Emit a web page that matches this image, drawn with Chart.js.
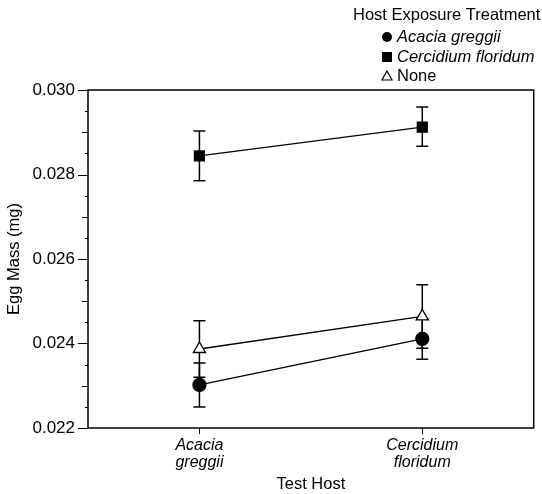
<!DOCTYPE html>
<html>
<head>
<meta charset="utf-8">
<script src="https://cdn.jsdelivr.net/npm/chart.js@4/dist/chart.umd.min.js"></script>
<style>
  html, body { margin: 0; padding: 0; background: #fff; }
  #wrap { width: 542px; height: 494px; position: relative; }
</style>
</head>
<body>
<div id="wrap"><canvas id="myChart" width="542" height="494"></canvas></div>
<script>
const testHosts = [["Acacia", "greggii"], ["Cercidium", "floridum"]];
const legendTitle = "Host Exposure Treatment";
const seriesNames = ["Acacia greggii", "Cercidium floridum", "None"];

// means (mg)
const acaciaMeans = [0.02302, 0.02411];
const cercidiumMeans = [0.02844, 0.02912];
const noneMeans = [0.02387, 0.02464];

// error bars (mg): lower / upper ends
const acaciaLow = [0.02250, 0.02363];
const acaciaHigh = [0.02354, 0.02459];
const cercidiumLow = [0.02785, 0.02867];
const cercidiumHigh = [0.02903, 0.02960];
const noneLow = [0.02320, 0.02389];
const noneHigh = [0.02454, 0.02539];

const yTicks = [0.022, 0.024, 0.026, 0.028, 0.030];

const FONT = "'Liberation Sans', Arial, sans-serif";

const errorBars = {
  id: "errorBars",
  beforeDatasetsDraw(chart) {
    const ctx = chart.ctx;
    const x = chart.scales.x;
    const y = chart.scales.y;
    chart.data.datasets.forEach((ds) => {
      ds.data.forEach((v, i) => {
        const px = x.getPixelForValue(i);
        const lo = y.getPixelForValue(ds.errLow[i]);
        const hi = y.getPixelForValue(ds.errHigh[i]);
        ctx.save();
        ctx.strokeStyle = "#000";
        ctx.lineWidth = 1.5;
        ctx.beginPath();
        ctx.moveTo(px, lo);
        ctx.lineTo(px, hi);
        ctx.moveTo(px - 6, lo);
        ctx.lineTo(px + 6, lo);
        ctx.moveTo(px - 6, hi);
        ctx.lineTo(px + 6, hi);
        ctx.stroke();
        ctx.restore();
      });
    });
  },
};

const frameAndTicks = {
  id: "frameAndTicks",
  afterDraw(chart) {
    const ctx = chart.ctx;
    const a = chart.chartArea;
    const y = chart.scales.y;
    const x = chart.scales.x;
    ctx.save();
    ctx.strokeStyle = "#000";
    ctx.lineWidth = 1.5;
    ctx.strokeRect(a.left, a.top, a.right - a.left, a.bottom - a.top);
    ctx.lineWidth = 1;
    // y ticks: major / mid / minor
    for (let k = 0; k <= 16; k++) {
      const v = 0.022 + k * 0.0005;
      const py = Math.round(y.getPixelForValue(v)) + 0.5;
      let len = 3;
      if (k % 4 === 0) len = 10;
      else if (k % 2 === 0) len = 6;
      ctx.beginPath();
      ctx.moveTo(a.left - len, py);
      ctx.lineTo(a.left, py);
      ctx.stroke();
    }
    // x ticks
    testHosts.forEach((_, i) => {
      const px = Math.round(x.getPixelForValue(i)) + 0.5;
      ctx.beginPath();
      ctx.moveTo(px, a.bottom);
      ctx.lineTo(px, a.bottom + 6);
      ctx.stroke();
    });
    ctx.restore();
  },
};

const customLegend = {
  id: "customLegend",
  afterDraw(chart) {
    const ctx = chart.ctx;
    ctx.save();
    ctx.fillStyle = "#000";
    ctx.textBaseline = "middle";
    ctx.textAlign = "left";
    ctx.font = "16.5px " + FONT;
    ctx.fillText(legendTitle, 353, 15);
    const rows = [37, 57, 76];
    chart.data.datasets.forEach((ds, i) => {
      const cy = rows[i];
      const cx = 387;
      ctx.strokeStyle = "#000";
      ctx.fillStyle = ds.pointBackgroundColor;
      ctx.lineWidth = 1.2;
      ctx.beginPath();
      if (ds.pointStyle === "circle") {
        ctx.arc(cx, cy, 5, 0, Math.PI * 2);
        ctx.fill();
      } else if (ds.pointStyle === "rect") {
        ctx.fillRect(cx - 5, cy - 5, 10, 10);
      } else {
        ctx.moveTo(cx, cy - 5);
        ctx.lineTo(cx + 5, cy + 4);
        ctx.lineTo(cx - 5, cy + 4);
        ctx.closePath();
        ctx.fill();
        ctx.stroke();
      }
      ctx.fillStyle = "#000";
      ctx.font = (i < 2 ? "italic " : "") + "16.5px " + FONT;
      ctx.fillText(ds.label, 397, cy);
    });
    ctx.restore();
  },
};

const config = {
  type: "line",
  data: {
    labels: testHosts,
    datasets: [
      {
        label: seriesNames[0],
        data: acaciaMeans,
        errLow: acaciaLow,
        errHigh: acaciaHigh,
        borderColor: "#000",
        borderWidth: 1.3,
        pointStyle: "circle",
        pointRadius: 6.5,
        pointBackgroundColor: "#000",
        pointBorderColor: "#000",
      },
      {
        label: seriesNames[1],
        data: cercidiumMeans,
        errLow: cercidiumLow,
        errHigh: cercidiumHigh,
        borderColor: "#000",
        borderWidth: 1.3,
        pointStyle: "rect",
        pointRadius: 7,
        pointBackgroundColor: "#000",
        pointBorderColor: "#000",
      },
      {
        label: seriesNames[2],
        data: noneMeans,
        errLow: noneLow,
        errHigh: noneHigh,
        borderColor: "#000",
        borderWidth: 1.3,
        pointStyle: "triangle",
        pointRadius: 7,
        pointBackgroundColor: "#fff",
        pointBorderColor: "#000",
        pointBorderWidth: 1.3,
      },
    ],
  },
  options: {
    responsive: false,
    animation: false,
    layout: { padding: { top: 90, right: 3, left: 0, bottom: 0 } },
    plugins: { legend: { display: false }, tooltip: { enabled: false } },
    scales: {
      x: {
        type: "category",
        offset: true,
        grid: { display: false, drawTicks: false },
        border: { display: false },
        ticks: {
          color: "#000",
          padding: 9,
          maxRotation: 0,
          font: { family: FONT, size: 16, style: "italic", lineHeight: 1.05 },
        },
        title: {
          display: true,
          text: "Test Host",
          color: "#000",
          font: { family: FONT, size: 16.5 },
          padding: { top: 1, bottom: 0 },
        },
        afterFit: (scale) => { scale.height = 66; },
      },
      y: {
        min: 0.022,
        max: 0.03,
        grid: { display: false, drawTicks: false },
        border: { display: false },
        afterBuildTicks: (scale) => {
          scale.ticks = yTicks.map((v) => ({ value: v }));
        },
        ticks: {
          color: "#000",
          padding: 13,
          font: { family: FONT, size: 17 },
          callback: (v) => Number(v).toFixed(3),
        },
        title: {
          display: true,
          text: "Egg Mass (mg)",
          color: "#000",
          font: { family: FONT, size: 16.5 },
          padding: { top: 5, bottom: 4 },
        },
        afterFit: (scale) => { scale.width = 88; },
      },
    },
  },
  plugins: [errorBars, frameAndTicks, customLegend],
};

const myChart = new Chart(document.getElementById("myChart"), config);
</script>
</body>
</html>
